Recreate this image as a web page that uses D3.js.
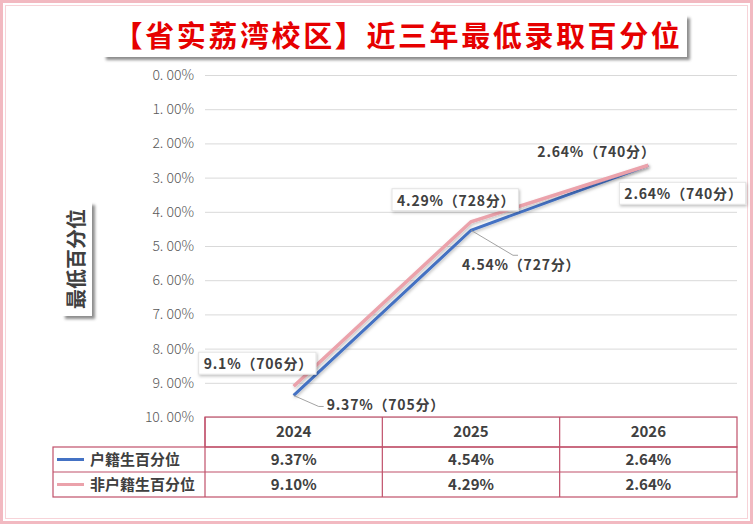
<!DOCTYPE html>
<html>
<head>
<meta charset="utf-8">
<script src="https://cdn.jsdelivr.net/npm/d3@7"></script>
<style>
  body { margin: 0; background: #fff; }
  svg { display: block; font-family: "Noto Sans CJK SC", "Noto Sans", sans-serif; }
</style>
</head>
<body>
<div class="chart"></div>
<script>
var svgWidth = 753;
var svgHeight = 524;

// data
var years = ["2024", "2025", "2026"];
var hujiValues = [9.37, 4.54, 2.64];
var feiHujiValues = [9.10, 4.29, 2.64];
var hujiScores = [705, 727, 740];
var feiHujiScores = [706, 728, 740];
var hujiLabels = ["9.37%", "4.54%", "2.64%"];
var feiHujiLabels = ["9.1%", "4.29%", "2.64%"];
var hujiTable = ["9.37%", "4.54%", "2.64%"];
var feiHujiTable = ["9.10%", "4.29%", "2.64%"];
var yTicks = [0, 1, 2, 3, 4, 5, 6, 7, 8, 9, 10];
var seriesNames = ["户籍生百分位", "非户籍生百分位"];

var plot = { left: 205, right: 737, top: 75, bottom: 417 };
var colors = { huji: "#4472c4", fei: "#eba2ab", border: "#c0506a", text: "#404040" };

var svg = d3.select(".chart").append("svg")
  .attr("width", svgWidth)
  .attr("height", svgHeight);

var defs = svg.append("defs");
var shadow = defs.append("filter").attr("id", "shadow")
  .attr("x", "-10%").attr("y", "-20%").attr("width", "130%").attr("height", "160%");
shadow.append("feDropShadow").attr("dx", 3).attr("dy", 3).attr("stdDeviation", 1.5)
  .attr("flood-color", "#000").attr("flood-opacity", 0.45);
var soft = defs.append("filter").attr("id", "soft")
  .attr("x", "-10%").attr("y", "-10%").attr("width", "130%").attr("height", "130%");
soft.append("feDropShadow").attr("dx", 1).attr("dy", 1.5).attr("stdDeviation", 1.5)
  .attr("flood-color", "#000").attr("flood-opacity", 0.25);

// outer pink frame
svg.append("rect").attr("x", 1.5).attr("y", 1.5)
  .attr("width", svgWidth - 3).attr("height", svgHeight - 3)
  .attr("fill", "none").attr("stroke", "#f2b9c1").attr("stroke-width", 3);
svg.append("rect").attr("x", 5.5).attr("y", 5.5)
  .attr("width", svgWidth - 11).attr("height", svgHeight - 11)
  .attr("fill", "none").attr("stroke", "#f7d3d8").attr("stroke-width", 1);

// title
svg.append("rect").attr("x", 103).attr("y", 15).attr("width", 584).attr("height", 42)
  .attr("fill", "#fff").attr("filter", "url(#shadow)");
svg.append("text").attr("x", 398).attr("y", 47)
  .attr("text-anchor", "middle").attr("letter-spacing", 2.6)
  .attr("font-size", 29).attr("font-weight", "bold").attr("fill", "#e60000")
  .text("【省实荔湾校区】近三年最低录取百分位");

// scales
var x = d3.scaleBand().domain(years).range([plot.left, plot.right]);
var y = d3.scaleLinear().domain([0, 10]).range([plot.top, plot.bottom]);
var cx = d => x(d) + x.bandwidth() / 2;

// y axis + grid
var yAxis = d3.axisLeft(y).tickValues(yTicks)
  .tickSize(-(plot.right - plot.left)).tickPadding(11)
  .tickFormat(d => d3.format(".2f")(d).replace(".", ". ") + "%");
var gy = svg.append("g").attr("transform", `translate(${plot.left},0)`).call(yAxis);
gy.select(".domain").remove();
gy.selectAll(".tick line").attr("stroke", "#d9d9d9").attr("stroke-width", 1);
gy.selectAll(".tick text").attr("fill", "#595959").attr("font-size", 14)
  .attr("font-weight", 300).attr("font-family", "'Noto Sans CJK SC', sans-serif");

// y axis title
svg.append("rect").attr("x", 62).attr("y", 202).attr("width", 30).attr("height", 114)
  .attr("fill", "#fff").attr("filter", "url(#shadow)");
svg.append("text")
  .attr("transform", "translate(84,259) rotate(-90)")
  .attr("text-anchor", "middle")
  .attr("font-size", 20).attr("font-weight", "bold").attr("fill", colors.text)
  .text("最低百分位");

// lines
var line = d3.line().x(d => cx(d.year)).y(d => y(d.value));
var hujiData = years.map((yr, i) => ({ year: yr, value: hujiValues[i] }));
var feiData = years.map((yr, i) => ({ year: yr, value: feiHujiValues[i] }));
svg.append("path").datum(hujiData).attr("d", line)
  .attr("fill", "none").attr("stroke", colors.huji).attr("stroke-width", 3)
  .attr("filter", "url(#soft)");
svg.append("path").datum(feiData).attr("d", line)
  .attr("fill", "none").attr("stroke", colors.fei).attr("stroke-width", 3.5)
  .attr("filter", "url(#soft)");

// data labels: offsets relative to the point
var hujiOffsets = [
  { dx: 33, dy: 15, box: false, lead: [25, 11] },
  { dx: -9, dy: 40, box: false, lead: [42, 25] },
  { dx: -24, dy: 34, box: true }
];
var feiOffsets = [
  { dx: -90, dy: -17, box: true },
  { dx: -74, dy: -16, box: true },
  { dx: -111, dy: -8, box: false }
];

function drawLabels(data, labels, scores, offsets) {
  data.forEach(function(d, i) {
    var px = cx(d.year), py = y(d.value), o = offsets[i];
    var g = svg.append("g");
    if (o.lead) {
      g.append("polyline")
        .attr("points", `${px},${py} ${px + o.lead[0]},${py + o.lead[1]} ${px + o.lead[0] + 5},${py + o.lead[1]}`)
        .attr("fill", "none").attr("stroke", "#8c8c8c").attr("stroke-width", 0.8);
    }
    var t = g.append("text")
      .attr("x", px + o.dx).attr("y", py + o.dy)
      .attr("font-size", 14).attr("font-weight", "bold").attr("fill", colors.text)
      .attr("letter-spacing", 0.8)
      .text(labels[i] + "（" + scores[i] + "分）");
    if (o.box) {
      var b = t.node().getBBox();
      g.insert("rect", "text")
        .attr("x", b.x - 5).attr("y", b.y - 1)
        .attr("width", b.width + 8).attr("height", b.height + 2)
        .attr("fill", "#fff").attr("stroke", "#e3e3e3").attr("stroke-width", 1)
        .attr("filter", "url(#soft)");
    }
  });
}
drawLabels(hujiData, hujiLabels, hujiScores, hujiOffsets);
drawLabels(feiData, feiHujiLabels, feiHujiScores, feiOffsets);

// data table
var rows = { top: 417, header: 30, row: 25 };
var tableLeft = 53;
var tg = svg.append("g");
// header row (over plot width only)
tg.append("rect").attr("x", plot.left).attr("y", rows.top)
  .attr("width", plot.right - plot.left).attr("height", rows.header);
tg.append("rect").attr("x", tableLeft).attr("y", rows.top + rows.header)
  .attr("width", plot.right - tableLeft).attr("height", rows.row * 2);
tg.selectAll("rect").attr("fill", "none").attr("stroke", colors.border).attr("stroke-width", 1.2);
tg.append("line").attr("x1", tableLeft).attr("x2", plot.right)
  .attr("y1", rows.top + rows.header + rows.row).attr("y2", rows.top + rows.header + rows.row);
years.forEach(function(yr) {
  tg.append("line").attr("x1", x(yr)).attr("x2", x(yr))
    .attr("y1", rows.top).attr("y2", rows.top + rows.header + rows.row * 2);
});
tg.selectAll("line").attr("stroke", colors.border).attr("stroke-width", 1.2);

tg.selectAll(".yr").data(years).enter().append("text")
  .attr("x", d => cx(d)).attr("y", rows.top + 20)
  .attr("text-anchor", "middle").text(d => d);
var tableRows = [hujiTable, feiHujiTable];
var seriesColors = [colors.huji, colors.fei];
tableRows.forEach(function(vals, r) {
  var ry = rows.top + rows.header + rows.row * r;
  tg.append("line").attr("x1", tableLeft + 4).attr("x2", tableLeft + 31)
    .attr("y1", ry + 12.5).attr("y2", ry + 12.5)
    .attr("stroke", seriesColors[r]).attr("stroke-width", 3);
  tg.append("text").attr("x", tableLeft + 37).attr("y", ry + 18).text(seriesNames[r]);
  years.forEach(function(yr, i) {
    tg.append("text").attr("x", cx(yr)).attr("y", ry + 18)
      .attr("text-anchor", "middle").text(vals[i]);
  });
});
tg.selectAll("text").attr("font-size", 15).attr("font-weight", "bold").attr("fill", colors.text);
</script>
</body>
</html>
